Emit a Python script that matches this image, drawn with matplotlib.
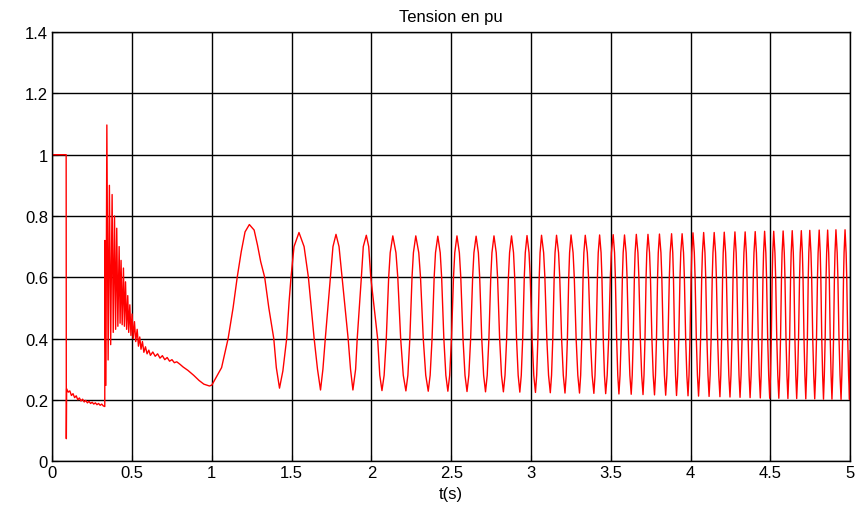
import numpy as np
import matplotlib
matplotlib.use('Agg')
import matplotlib.pyplot as plt

plt.rcParams['font.family'] = ['Liberation Sans', 'DejaVu Sans']

# ── avant et pendant le défaut ──
pre_t = [0.0, 0.087, 0.088, 0.090, 0.10, 0.11, 0.12, 0.13, 0.14, 0.15, 0.16, 0.17, 0.18,
         0.19, 0.20, 0.21, 0.22, 0.23, 0.24, 0.25, 0.26, 0.27, 0.28, 0.29, 0.30, 0.31,
         0.32, 0.329, 0.330, 0.336]
pre_v = [1.0, 1.0, 0.073, 0.236, 0.225, 0.229, 0.214, 0.220, 0.207, 0.213, 0.200, 0.206, 0.196,
         0.202, 0.193, 0.198, 0.190, 0.195, 0.188, 0.192, 0.186, 0.190, 0.184, 0.188, 0.182, 0.186,
         0.180, 0.178, 0.72, 0.247]

# ── transitoire après élimination du défaut (crêtes / creux) ──
tr_peak_t = [0.342, 0.358, 0.375, 0.390, 0.404, 0.419, 0.431, 0.446, 0.459, 0.473,
             0.486, 0.500, 0.515, 0.532, 0.548, 0.565, 0.584, 0.605]
tr_peak_v = [1.097, 0.90, 0.87, 0.80, 0.76, 0.70, 0.655, 0.63, 0.585, 0.54,
             0.51, 0.48, 0.455, 0.43, 0.405, 0.39, 0.373, 0.362]
tr_trough_t = [0.350, 0.366, 0.382, 0.397, 0.411, 0.425, 0.438, 0.452, 0.466, 0.479,
               0.493, 0.507, 0.523, 0.540, 0.556, 0.574, 0.594, 0.615]
tr_trough_v = [0.33, 0.38, 0.42, 0.43, 0.44, 0.45, 0.445, 0.44, 0.43, 0.42,
               0.41, 0.40, 0.39, 0.375, 0.365, 0.355, 0.35, 0.345]

# décroissance lente (petites ondulations)
decay_t = [0.63, 0.645, 0.66, 0.675, 0.69, 0.705, 0.72, 0.735, 0.75, 0.765, 0.78,
           0.80, 0.82, 0.85, 0.886, 0.92, 0.95]
decay_v = [0.356, 0.342, 0.350, 0.336, 0.344, 0.331, 0.338, 0.326, 0.331, 0.321, 0.324,
           0.316, 0.307, 0.296, 0.280, 0.263, 0.251]

# ── premières oscillations ──
slow_t = [0.985, 1.000, 1.061, 1.102, 1.133, 1.159, 1.184, 1.208, 1.235, 1.265, 1.286,
          1.306, 1.331, 1.357, 1.388, 1.404, 1.424, 1.445, 1.469, 1.484, 1.496, 1.515, 1.546,
          1.578, 1.605, 1.641, 1.662, 1.681, 1.696,
          1.711, 1.743, 1.759, 1.778, 1.797, 1.816, 1.854, 1.869, 1.884, 1.901,
          1.911, 1.937, 1.949, 1.968, 1.983, 1.996]
slow_v = [0.245, 0.248, 0.305, 0.40, 0.50, 0.60, 0.683, 0.748, 0.772, 0.754, 0.705,
          0.651, 0.60, 0.50, 0.40, 0.305, 0.238, 0.294, 0.40, 0.52, 0.60, 0.70, 0.746,
          0.70, 0.60, 0.40, 0.30, 0.232, 0.30,
          0.40, 0.60, 0.70, 0.740, 0.70, 0.60, 0.40, 0.30, 0.232, 0.30,
          0.40, 0.60, 0.70, 0.737, 0.70, 0.60]

# ── oscillations entretenues : crêtes ──
peak_t = [2.134, 2.278, 2.416, 2.536, 2.656, 2.768, 2.878, 2.975,
          3.066, 3.160, 3.251, 3.340, 3.430, 3.515, 3.586, 3.660, 3.733, 3.805, 3.881, 3.947,
          4.015, 4.082, 4.148, 4.211, 4.278, 4.342, 4.405, 4.464, 4.521, 4.580, 4.637,
          4.694, 4.747, 4.806, 4.859, 4.911, 4.968]
peak_v = [0.735, 0.735, 0.734, 0.735, 0.734, 0.735, 0.735, 0.736,
          0.737, 0.737, 0.738, 0.737, 0.738, 0.739, 0.738, 0.740, 0.740, 0.741, 0.742, 0.742,
          0.745, 0.746, 0.746, 0.747, 0.748, 0.748, 0.749, 0.750, 0.750, 0.751, 0.752,
          0.752, 0.753, 0.754, 0.754, 0.755, 0.755]

# ── oscillations entretenues : creux ──
trough_t = [2.066, 2.216, 2.356, 2.479, 2.599, 2.715, 2.827, 2.930,
            3.028, 3.121, 3.213, 3.304, 3.394, 3.468, 3.551, 3.628, 3.702, 3.774, 3.844, 3.912,
            3.984, 4.050, 4.116, 4.184, 4.247, 4.310, 4.373, 4.437, 4.496, 4.553, 4.610,
            4.665, 4.722, 4.778, 4.833, 4.886, 4.943, 4.996]
trough_v = [0.230, 0.229, 0.228, 0.228, 0.227, 0.226, 0.226, 0.225,
            0.224, 0.223, 0.222, 0.222, 0.221, 0.220, 0.219, 0.218, 0.217, 0.216, 0.215, 0.214,
            0.213, 0.212, 0.211, 0.210, 0.209, 0.208, 0.207, 0.206, 0.205, 0.205, 0.204,
            0.204, 0.203, 0.203, 0.202, 0.202, 0.201, 0.201]
end_t, end_v = [5.0], [0.36]

# forme d'une alternance : niveaux et position relative (fraction de la demi-période)
peak_levels = [0.68, 0.60]
peak_frac = [0.24, 0.38]
trough_levels = [0.28, 0.40]
trough_frac = [0.20, 0.40]

# crêtes et creux fusionnés dans l'ordre du temps
ext_t = np.array(peak_t + trough_t)
ext_v = np.array(peak_v + trough_v)
ext_is_peak = np.array([True] * len(peak_t) + [False] * len(trough_t))
o = np.argsort(ext_t)
ext_t, ext_v, ext_is_peak = ext_t[o], ext_v[o], ext_is_peak[o]

osc_t, osc_v = [], []
n = len(ext_t)
for i in range(n):
    gap_l = ext_t[i] - ext_t[i - 1] if i > 0 else ext_t[i + 1] - ext_t[i]
    gap_r = ext_t[i + 1] - ext_t[i] if i < n - 1 else None
    levels, fracs = (peak_levels, peak_frac) if ext_is_peak[i] else (trough_levels, trough_frac)
    osc_t.append(ext_t[i])
    osc_v.append(ext_v[i])
    for lev, fr in zip(levels, fracs):
        osc_t.append(ext_t[i] - fr * gap_l)
        osc_v.append(lev)
        if gap_r is not None:
            osc_t.append(ext_t[i] + fr * gap_r)
            osc_v.append(lev)

# assemblage (tri par temps)
t = np.concatenate([pre_t, tr_peak_t, tr_trough_t, decay_t, slow_t, osc_t, end_t])
v = np.concatenate([pre_v, tr_peak_v, tr_trough_v, decay_v, slow_v, osc_v, end_v])
order = np.argsort(t, kind='stable')
t, v = t[order], v[order]

fig = plt.figure(figsize=(8.57, 5.10), dpi=100)
ax = fig.add_axes([0.061, 0.094, 0.931, 0.841])

ax.plot(t, v, color='red', lw=1.0)

ax.set_xlim(0, 5)
ax.set_ylim(0, 1.4)
ax.set_xticks(np.arange(0, 5.01, 0.5))
ax.set_xticklabels(['0', '0.5', '1', '1.5', '2', '2.5', '3', '3.5', '4', '4.5', '5'])
ax.set_yticks(np.arange(0, 1.41, 0.2))
ax.set_yticklabels(['0', '0.2', '0.4', '0.6', '0.8', '1', '1.2', '1.4'])
ax.grid(True, color='black', lw=1.0, ls='-')
ax.tick_params(direction='in', length=4, labelsize=12, pad=3)
for s in ax.spines.values():
    s.set_linewidth(1.0)

ax.set_title('Tension en pu', fontsize=12, pad=8)
ax.set_xlabel('t(s)', fontsize=12, labelpad=4)

fig.savefig('out.png', dpi=100, facecolor='white')
plt.close(fig)
